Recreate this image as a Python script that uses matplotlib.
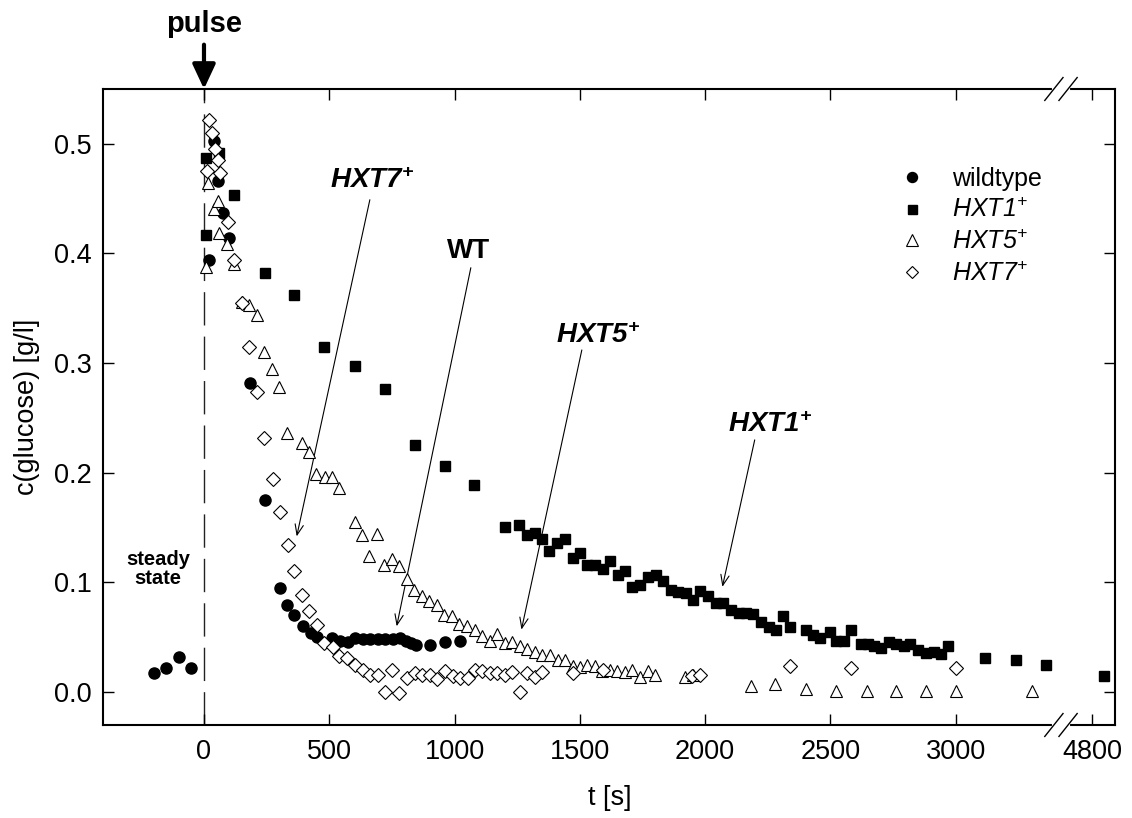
import numpy as np
import matplotlib
matplotlib.use("Agg")
import matplotlib.pyplot as plt

plt.rcParams['font.family'] = 'Liberation Sans'
plt.rcParams['mathtext.fontset'] = 'custom'
plt.rcParams['mathtext.rm'] = 'Liberation Sans:italic'
plt.rcParams['mathtext.it'] = 'Liberation Sans:italic'
plt.rcParams['mathtext.bf'] = 'Liberation Sans:italic:bold'

# glucose concentration after the pulse
wt_t = [-200, -150, -100, -50, 20, 40, 57, 77, 101, 183, 243, 303, 332, 360, 394,
        427, 452, 509, 543, 576, 602, 636, 662, 695, 722, 755, 782, 808, 828, 848,
        901, 961, 1021]
wt_c = [0.017, 0.022, 0.032, 0.022, 0.394, 0.503, 0.466, 0.437, 0.414, 0.282, 0.175,
        0.095, 0.079, 0.070, 0.060, 0.054, 0.050, 0.049, 0.047, 0.046, 0.049, 0.048,
        0.048, 0.048, 0.048, 0.048, 0.049, 0.047, 0.045, 0.043, 0.043, 0.046, 0.047]

hxt1_t = [7, 10, 60, 121, 243, 360, 480, 602, 722, 842, 961, 1079, 1201, 1259, 1289,
          1320, 1351, 1377, 1409, 1440, 1471, 1500, 1529, 1560, 1593, 1622, 1653, 1679,
          1710, 1742, 1772, 1803, 1832, 1862, 1892, 1923, 1952, 1981, 2012, 2042, 2071,
          2105, 2135, 2165, 2191, 2225, 2254, 2282, 2311, 2340, 2401, 2431, 2460, 2500,
          2524, 2553, 2583, 2623, 2650, 2676, 2703, 2734, 2763, 2792, 2819, 2849, 2880,
          2912, 2942, 2969, 3119, 3239, 3361, 4848]
hxt1_c = [0.417, 0.487, 0.492, 0.453, 0.382, 0.362, 0.315, 0.297, 0.276, 0.225, 0.206,
          0.189, 0.151, 0.152, 0.143, 0.145, 0.140, 0.129, 0.136, 0.140, 0.122, 0.127,
          0.116, 0.116, 0.112, 0.120, 0.107, 0.110, 0.096, 0.098, 0.105, 0.107, 0.101,
          0.093, 0.091, 0.090, 0.084, 0.092, 0.088, 0.081, 0.081, 0.075, 0.072, 0.072,
          0.071, 0.064, 0.059, 0.057, 0.069, 0.059, 0.057, 0.052, 0.049, 0.055, 0.047,
          0.047, 0.057, 0.044, 0.044, 0.042, 0.040, 0.046, 0.044, 0.042, 0.044, 0.038,
          0.036, 0.037, 0.035, 0.042, 0.031, 0.029, 0.025, 0.015]

hxt5_t = [8, 17, 41, 55, 61, 90, 121, 150, 181, 210, 239, 270, 300, 330, 390, 420, 449,
          483, 511, 540, 602, 631, 659, 689, 719, 751, 779, 811, 839, 871, 899, 928, 959,
          988, 1018, 1048, 1081, 1111, 1141, 1170, 1201, 1231, 1263, 1291, 1320, 1351,
          1380, 1411, 1440, 1471, 1500, 1530, 1560, 1590, 1619, 1649, 1679, 1710, 1742,
          1772, 1802, 1919, 1950, 2184, 2280, 2404, 2524, 2646, 2763, 2880, 3002, 3306]
hxt5_c = [0.388, 0.464, 0.441, 0.448, 0.419, 0.409, 0.390, 0.356, 0.353, 0.344, 0.310,
          0.295, 0.278, 0.236, 0.227, 0.219, 0.199, 0.196, 0.196, 0.186, 0.155, 0.143,
          0.124, 0.144, 0.116, 0.121, 0.115, 0.103, 0.093, 0.088, 0.083, 0.079, 0.070,
          0.069, 0.062, 0.060, 0.057, 0.051, 0.047, 0.053, 0.045, 0.046, 0.042, 0.039,
          0.037, 0.034, 0.034, 0.029, 0.029, 0.024, 0.023, 0.025, 0.024, 0.019, 0.020,
          0.019, 0.018, 0.020, 0.014, 0.019, 0.016, 0.014, 0.016, 0.006, 0.007, 0.003,
          0.001, 0.001, 0.001, 0.001, 0.001, 0.001]

hxt7_t = [13, 20, 31, 44, 55, 64, 97, 120, 150, 181, 210, 239, 274, 303, 336, 360, 390,
          420, 452, 480, 513, 540, 572, 602, 633, 662, 693, 722, 751, 779, 812, 842, 871,
          901, 931, 961, 992, 1021, 1052, 1081, 1110, 1141, 1171, 1203, 1231, 1260, 1289,
          1320, 1351, 1471, 1593, 1949, 1981, 2340, 2581, 3002]
hxt7_c = [0.475, 0.522, 0.510, 0.495, 0.485, 0.473, 0.429, 0.394, 0.355, 0.315, 0.274,
          0.232, 0.194, 0.164, 0.134, 0.110, 0.089, 0.074, 0.061, 0.045, 0.041, 0.033,
          0.031, 0.025, 0.020, 0.016, 0.016, 0.000, 0.020, -0.001, 0.013, 0.017, 0.016,
          0.016, 0.012, 0.019, 0.015, 0.013, 0.013, 0.020, 0.019, 0.017, 0.017, 0.016,
          0.018, 0.000, 0.017, 0.014, 0.018, 0.017, 0.020, 0.015, 0.016, 0.024, 0.022,
          0.022]

x_ticks = [0, 500, 1000, 1500, 2000, 2500, 3000, 4800]
y_ticks = [0.0, 0.1, 0.2, 0.3, 0.4, 0.5]

# broken time axis: everything between B1 and B2 is cut out
B1, B2 = 3420, 4676


def fwd(t):
    t = np.asarray(t, dtype=float)
    return np.where(t <= B1, t, np.where(t >= B2, t - (B2 - B1), B1))


def inv(u):
    u = np.asarray(u, dtype=float)
    return np.where(u <= B1, u, u + (B2 - B1))


fs = 19.5
fig = plt.figure(figsize=(11.32, 8.18), dpi=100)
ax = fig.add_axes([0.091, 0.1137, 0.894, 0.7775])
ax.set_xscale('function', functions=(fwd, inv))

ax.axvline(0, color='#222222', lw=1.0, ls=(0, (24, 8)), zorder=1)

ax.plot(wt_t, wt_c, ls='none', marker='o', ms=8, mfc='black', mec='black',
        label='wildtype', zorder=3)
ax.plot(hxt1_t, hxt1_c, ls='none', marker='s', ms=7.2, mfc='black', mec='black',
        label=r'$HXT1^{+}$', zorder=3)
ax.plot(hxt5_t, hxt5_c, ls='none', marker='^', ms=9, mfc='white', mec='black',
        mew=0.8, label=r'$HXT5^{+}$', zorder=4)
ax.plot(hxt7_t, hxt7_c, ls='none', marker='D', ms=7, mfc='white', mec='black',
        mew=0.8, label=r'$HXT7^{+}$', zorder=5)

ax.set_xlim(-403, 4892)
ax.set_ylim(-0.03, 0.55)
ax.set_xticks(x_ticks)
ax.set_xticklabels([str(v) for v in x_ticks])
ax.xaxis.set_minor_locator(matplotlib.ticker.NullLocator())
ax.set_yticks(y_ticks)
ax.set_yticklabels(['%.1f' % v for v in y_ticks])
ax.tick_params(direction='in', length=8, width=1, top=True, right=True,
               labelsize=fs)
ax.tick_params(axis='x', pad=10)
ax.tick_params(axis='y', pad=8)
for sp in ax.spines.values():
    sp.set_linewidth(1.5)

ax.set_xlabel('t [s]', fontsize=fs)
ax.set_ylabel('c(glucose) [g/l]', fontsize=fs)
ax.xaxis.set_label_coords(0.501, -0.095)
ax.yaxis.set_label_coords(-0.062, 0.5)

leg = ax.legend(loc='upper left', bbox_to_anchor=(0.787, 0.878), frameon=False,
                fontsize=18, handlelength=1.0, handletextpad=1.1,
                labelspacing=0.3, borderpad=0, borderaxespad=0, markerscale=0.9)

# axis break marks
bx = 0.9466
for yb in (0.0, 1.0):
    ax.plot([bx - 0.007, bx + 0.007], [yb, yb], transform=ax.transAxes,
            color='white', lw=3, clip_on=False, zorder=6)
    for dx in (-0.007, 0.007):
        ax.plot([bx + dx - 0.009, bx + dx + 0.009], [yb - 0.018, yb + 0.018],
                transform=ax.transAxes, color='black', lw=1, clip_on=False, zorder=7)

# pulse marker
ax.annotate('pulse', xy=(0, 1), xycoords=('data', 'axes fraction'),
            xytext=(0, 47), textcoords='offset points', ha='center', va='center',
            fontsize=21, fontweight='bold', annotation_clip=False,
            arrowprops=dict(arrowstyle='-|>,head_length=0.75,head_width=0.35',
                            lw=3, color='black', shrinkA=3, shrinkB=0,
                            mutation_scale=20))

ax.text(-183, 0.112, 'steady\nstate', ha='center', va='center', fontsize=14.5,
        fontweight='bold', linespacing=1.0)

# curve labels with thin arrows
arrow_kw = dict(arrowstyle='->,head_length=0.5,head_width=0.2', lw=0.8,
                color='black', shrinkA=0, shrinkB=0, mutation_scale=15)
ax.text(503, 0.460, r'$\mathbf{HXT7}^{\mathbf{+}}$', fontsize=20, ha='left',
        va='baseline')
ax.annotate('', xy=(370, 0.142), xytext=(662, 0.449), arrowprops=arrow_kw)
ax.text(969, 0.396, 'WT', fontsize=20, fontweight='bold', ha='left', va='baseline')
ax.annotate('', xy=(769, 0.060), xytext=(1065, 0.387), arrowprops=arrow_kw)
ax.text(1404, 0.318, r'$\mathbf{HXT5}^{\mathbf{+}}$', fontsize=20, ha='left',
        va='baseline')
ax.annotate('', xy=(1267, 0.057), xytext=(1508, 0.312), arrowprops=arrow_kw)
ax.text(2090, 0.2375, r'$\mathbf{HXT1}^{\mathbf{+}}$', fontsize=20, ha='left',
        va='baseline')
ax.annotate('', xy=(2069, 0.096), xytext=(2198, 0.230), arrowprops=arrow_kw)

fig.savefig('out.png', dpi=100)
